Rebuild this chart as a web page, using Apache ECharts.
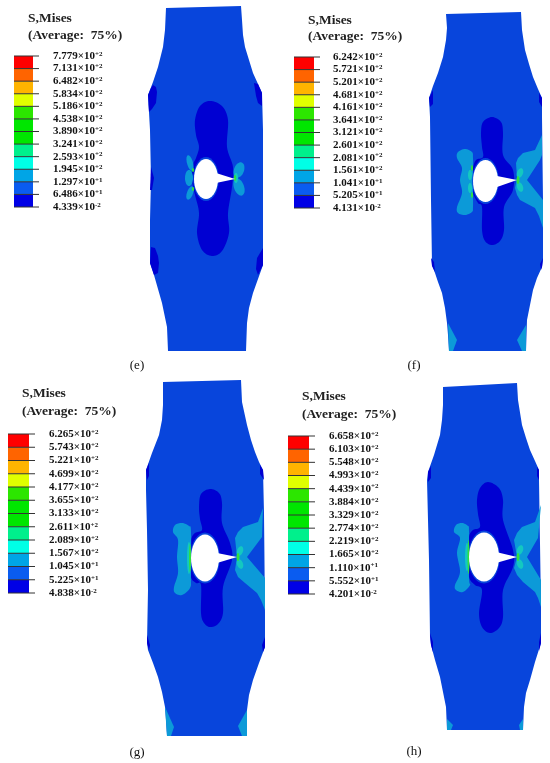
<!DOCTYPE html>
<html><head><meta charset="utf-8">
<style>html,body{margin:0;padding:0;background:#fff}#c{width:550px;height:763px}</style>
<script src="https://cdn.jsdelivr.net/npm/echarts@6/dist/echarts.min.js"></script>
</head><body><div id="c"></div>
<script>
// legend
const bandColors=['#ff0000','#ff6400','#ffb400','#e0ff00','#2ce600','#00e600','#00e600','#00f08c','#00ffe6','#00a5e6','#0a5cf0','#0000e6'];
const ticksE=['7.779|+2','7.131|+2','6.482|+2','5.834|+2','5.186|+2','4.538|+2','3.890|+2','3.241|+2','2.593|+2','1.945|+2','1.297|+1','6.486|+1','4.339|-2'];
const ticksF=['6.242|+2','5.721|+2','5.201|+2','4.681|+2','4.161|+2','3.641|+2','3.121|+2','2.601|+2','2.081|+2','1.561|+2','1.041|+1','5.205|+1','4.131|-2'];
const ticksG=['6.265|+2','5.743|+2','5.221|+2','4.699|+2','4.177|+2','3.655|+2','3.133|+2','2.611|+2','2.089|+2','1.567|+2','1.045|+1','5.225|+1','4.838|-2'];
const ticksH=['6.658|+2','6.103|+2','5.548|+2','4.993|+2','4.439|+2','3.884|+2','3.329|+2','2.774|+2','2.219|+2','1.665|+2','1.110|+1','5.552|+1','4.201|-2'];
// [barLeft, barRight, barTop, barBottom, labelX, titleX, titleY1, titleY2]
const legendE=[14,33,56,207,53,28,19,36];
const legendF=[294,314,57,208,333,308,21,37];
const legendG=[8,29,434,593,49,22,394,412];
const legendH=[288,309,436,594,329,302,397,415];
const captions=[['(e)',137,366],['(f)',414,366],['(g)',137,753],['(h)',414,752]];

// panel (e)
const outlineE=[[166,8],[241,6],[242,20],[243,35],[245,47],[249,60],[253,73],[258,84],[262,93],[263,130],[263,213],[263,265],[258,279],[253,293],[249,308],[247,323],[246,351],[168,351],[167,327],[162,303],[154,275],[150,263],[150,220],[151,180],[150,130],[148,95],[153,82],[158,67],[163,47],[165,30]];
const darkE=[[[148,95],[151,88],[153,85],[156,87],[157,92],[156,103],[152,109],[149,112]],[[254,83],[258,84],[262,93],[262,106],[258,103],[256,96]],[[151,247],[155,248],[158,256],[159,263],[158,273],[154,275],[150,263]],[[263,248],[263,265],[258,275],[256,269],[257,258]],[[151,167],[154,178],[152,190],[150,190]]];
const blobE=[[210,101],[200,106],[195,120],[196,135],[199,147],[196,158],[193,165],[192,180],[195,195],[199,213],[197,233],[202,250],[212,256],[222,251],[229,233],[228,213],[232,187],[233,167],[227,147],[228,120],[222,106]];
const lightE=[];
const lobesE=[];
const petalsE=[[190,163,3,8,-15,'light'],[189,178,4,8,0,'light'],[190,193,3,7,20,'light'],[239,170,5,8,20,'light'],[239,187,5,9,-20,'light'],[236,178,2,5,0,'teal'],[235,178,1.2,3,0,'green'],[193,170,1,2,0,'green'],[193,189,1,2,0,'green']];
const holeE=[206,179,12,20];
const tailE=[[216,173],[235,179],[216,183]];
const cornersE=[];

// panel (f)
const outlineF=[[446,14],[521,12],[522,30],[525,50],[529,64],[533,77],[538,89],[542,98],[542,117],[543,200],[543,260],[542,267],[537,278],[533,290],[530,305],[527,320],[526,351],[449,351],[448,335],[447,323],[445,308],[442,293],[438,282],[435,273],[432,265],[431,200],[430,117],[429,98],[433,86],[438,73],[443,57],[446,40],[447,28]];
const darkF=[[[429,98],[433,90],[433,104],[430,107]],[[542,98],[539,93],[539,102],[542,107]],[[431,258],[434,262],[435,272],[432,266]],[[543,258],[540,264],[541,270],[542,267]]];
const blobF=[[492,117],[483,122],[481,133],[482,147],[483,157],[476,160],[473,168],[472,181],[473,193],[478,203],[482,207],[482,230],[485,241],[492,245],[500,241],[504,230],[504,207],[513,190],[513,170],[503,155],[503,133],[501,122]];
const lightF=[[[542,135],[535,150],[523,153],[518,158],[516,163],[517,178],[515,188],[517,195],[520,200],[535,208],[539,216],[543,228],[543,200],[527,180],[540,160],[542,155]]];
const lobesF=[[[465,149],[472,152],[473,158],[473,172],[473,190],[473,207],[472,212],[465,215],[458,213],[457,207],[462,193],[460,180],[462,168],[457,158],[458,152]]];
const petalsF=[[470,175,2,5,0,'teal'],[470,188,2,5,0,'teal'],[472,168,1,3,0,'green'],[472,195,1,3,0,'green'],[520,173,3,5,20,'teal'],[520,187,3,5,-20,'teal'],[518,180,1.5,4,0,'green']];
const holeF=[485.5,181,12.5,21];
const tailF=[[497,176],[517,180],[497,187]];
const cornersF=[[[448,323],[457,340],[453,351],[449,351]],[[526,325],[517,340],[522,351],[526,351]]];

// panel (g)
const outlineG=[[163,382],[241,380],[242,402],[247,425],[251,440],[255,452],[259,462],[263,470],[264,513],[265,613],[265,647],[259,663],[253,680],[249,695],[247,710],[247,736],[167,736],[166,720],[165,707],[162,692],[158,677],[153,663],[148,650],[147,643],[148,590],[147,530],[146,490],[146,470],[152,453],[159,435],[162,420],[163,405]];
const darkG=[[[146,470],[149,463],[149,476],[147,480]],[[263,470],[260,465],[260,474],[264,480]],[[147,635],[150,645],[149,650],[147,643]],[[265,637],[262,645],[263,652],[265,647]]];
const blobG=[[210,489],[201,494],[199,507],[200,519],[202,530],[195,533],[191,540],[190,558],[191,577],[196,583],[201,585],[201,613],[204,623],[210,627],[218,624],[223,613],[223,587],[232,560],[230,543],[222,523],[222,503],[219,493]];
const lightG=[[[263,508],[258,522],[243,527],[238,532],[235,538],[237,557],[235,570],[238,577],[245,583],[257,593],[261,600],[265,610],[265,578],[247,557],[262,537]]];
const lobesG=[[[182,523],[189,526],[191,532],[191,577],[190,588],[182,595],[175,593],[174,587],[178,573],[177,557],[178,540],[173,532],[175,525]]];
const petalsG=[[189,558,2,16,0,'teal'],[190,558,1,14,0,'green'],[240,551,3,5,20,'teal'],[240,564,3,5,-20,'teal'],[238,557,1.5,4,0,'green']];
const holeG=[205,558,14,23.5];
const tailG=[[217,553],[237,557],[217,563]];
const cornersG=[[[165,707],[174,727],[171,736],[167,736]],[[247,710],[238,726],[242,736],[247,736]]];

// panel (h)
const outlineH=[[443,387],[517,383],[518,400],[522,425],[526,438],[530,450],[535,461],[539,470],[539,480],[541,607],[541,643],[535,662],[530,680],[526,693],[524,707],[523,730],[447,730],[446,707],[443,692],[440,677],[435,660],[431,645],[430,637],[429,560],[427,480],[428,472],[434,455],[440,435],[442,420],[443,405]];
const darkH=[[[428,472],[431,466],[431,478],[428,482]],[[539,470],[537,467],[537,476],[539,480]],[[430,633],[433,642],[433,652],[431,645]],[[541,633],[539,642],[539,651],[541,643]]];
const blobH=[[488,482],[480,488],[477,500],[478,514],[480,527],[473,530],[469,537],[468,557],[469,577],[475,585],[482,590],[479,613],[482,627],[490,633],[499,628],[503,617],[503,590],[513,567],[513,550],[503,520],[503,500],[499,488]];
const lightH=[[[541,505],[535,522],[522,527],[517,533],[514,540],[517,557],[514,568],[517,575],[523,582],[535,592],[538,598],[541,607],[541,580],[527,557],[538,538]]];
const lobesH=[[[462,523],[468,526],[469,532],[469,578],[470,585],[463,592],[456,590],[455,585],[460,572],[457,553],[460,538],[454,532],[456,525]]];
const petalsH=[[467,557,2,14,0,'teal'],[468.5,557,1,17,0,'green'],[520,550,3,5,20,'teal'],[520,564,3,5,-20,'teal'],[518,557,1.5,4,0,'green']];
const holeH=[484,557,15,24.5];
const tailH=[[496,552],[517,557],[496,563]];
const cornersH=[[[447,719],[453,725],[451,730],[447,730]],[[523,719],[519,725],[520,730],[523,730]]];

const C={main:'#0845dc',dark:'#0000d2',light:'#0c9ad8',teal:'#14c8c0',green:'#30e040',white:'#ffffff'};
function ell(cx,cy,rx,ry,rot){const r=(rot||0)*Math.PI/180,p=[];for(let i=0;i<36;i++){const a=i/36*2*Math.PI,x=rx*Math.cos(a),y=ry*Math.sin(a);p.push([cx+x*Math.cos(r)-y*Math.sin(r),cy+x*Math.sin(r)+y*Math.cos(r)]);}return p;}
function curve(P){const n=P.length,out=[];for(let i=0;i<n;i++){const a=P[(i-1+n)%n],b=P[i],c=P[(i+1)%n],d=P[(i+2)%n];
  for(let k=0;k<8;k++){const t=k/8,t2=t*t,t3=t2*t;
    out.push([0,1].map(j=>0.5*(2*b[j]+(c[j]-a[j])*t+(2*a[j]-5*b[j]+4*c[j]-d[j])*t2+(3*b[j]-a[j]-3*c[j]+d[j])*t3)));}}
  return out;}
const shapes=[];
function add(points,fill){shapes.push({points,fill});}
function panel(outline,dark,blob,light,lobes,corners,petals,hole,tail){
  add(outline,C.main);
  dark.forEach(d=>add(d,C.dark));
  add(curve(blob),C.dark);
  corners.forEach(d=>add(d,C.light));
  light.forEach(d=>add(d,C.light));
  lobes.forEach(d=>add(curve(d),C.light));
  add(ell(hole[0],hole[1],hole[2]+0.8,hole[3]+2),C.main);
  petals.forEach(p=>add(ell(p[0],p[1],p[2],p[3],p[4]),C[p[5]]));
  add(ell(hole[0],hole[1],hole[2],hole[3]),C.white);
  add(tail,C.white);
}
panel(outlineE,darkE,blobE,lightE,lobesE,cornersE,petalsE,holeE,tailE);
panel(outlineF,darkF,blobF,lightF,lobesF,cornersF,petalsF,holeF,tailF);
panel(outlineG,darkG,blobG,lightG,lobesG,cornersG,petalsG,holeG,tailG);
panel(outlineH,darkH,blobH,lightH,lobesH,cornersH,petalsH,holeH,tailH);

const bands=[],ticks=[],texts=[];
function legend(L,labels){
  const n=labels.length-1,h=(L[3]-L[2])/n;
  for(let i=0;i<n;i++) bands.push({x0:L[0],x1:L[1],y0:L[2]+i*h,y1:L[2]+(i+1)*h,fill:bandColors[i]});
  labels.forEach((t,i)=>{
    const y=L[2]+i*h;ticks.push({x0:L[0],x1:L[1]+6,y});
    const s=t.split('|');
    texts.push({x:L[4],y,text:'{a|'+s[0]+'×10}{s|'+s[1]+'}',align:'left'});
  });
  texts.push({x:L[5],y:L[6],text:'{t|S,Mises}',align:'left'});
  texts.push({x:L[5],y:L[7],text:'{t|(Average:  75%)}',align:'left'});
}
legend(legendE,ticksE);legend(legendF,ticksF);legend(legendG,ticksG);legend(legendH,ticksH);
captions.forEach(c=>texts.push({x:c[1],y:c[2],text:'{c|'+c[0]+'}',align:'center'}));

const FONT='"Liberation Serif"';
const rich={a:{fontFamily:FONT,fontWeight:'bold',fontSize:11,fill:'#111'},
  s:{fontFamily:FONT,fontWeight:'bold',fontSize:7,fill:'#111',verticalAlign:'top',padding:[0,0,4,0]},
  t:{fontFamily:FONT,fontWeight:'bold',fontSize:13.5,fill:'#222'},
  c:{fontFamily:FONT,fontSize:13,fill:'#111'}};

const chart=echarts.init(document.getElementById('c'),null,{renderer:'canvas'});
chart.setOption({
  animation:false,backgroundColor:'#fff',
  grid:{left:0,right:0,top:0,bottom:0},
  xAxis:{type:'value',min:0,max:550,show:false},
  yAxis:{type:'value',min:0,max:763,inverse:true,show:false},
  series:[
   {type:'custom',coordinateSystem:'cartesian2d',silent:true,clip:false,data:shapes.map((s,i)=>[i]),
    renderItem(p,api){const s=shapes[api.value(0)];
      return {type:'polygon',shape:{points:s.points.map(q=>api.coord(q))},style:{fill:s.fill}};}},
   {type:'custom',silent:true,clip:false,data:bands.map((s,i)=>[i]),
    renderItem(p,api){const s=bands[api.value(0)],a=api.coord([s.x0,s.y0]),b=api.coord([s.x1,s.y1]);
      return {type:'rect',shape:{x:a[0],y:a[1],width:b[0]-a[0],height:b[1]-a[1]},style:{fill:s.fill}};}},
   {type:'custom',silent:true,clip:false,data:ticks.map((s,i)=>[i]),
    renderItem(p,api){const s=ticks[api.value(0)],a=api.coord([s.x0,s.y]),b=api.coord([s.x1,s.y]);
      return {type:'line',shape:{x1:a[0],y1:a[1],x2:b[0],y2:b[1]},style:{stroke:'#333',lineWidth:1}};}},
   {type:'custom',silent:true,clip:false,data:texts.map((s,i)=>[i]),
    renderItem(p,api){const s=texts[api.value(0)],a=api.coord([s.x,s.y]);
      return {type:'text',x:a[0],y:a[1],style:{text:s.text,rich,align:s.align,verticalAlign:'middle'}};}}
  ]
});
</script></body></html>
